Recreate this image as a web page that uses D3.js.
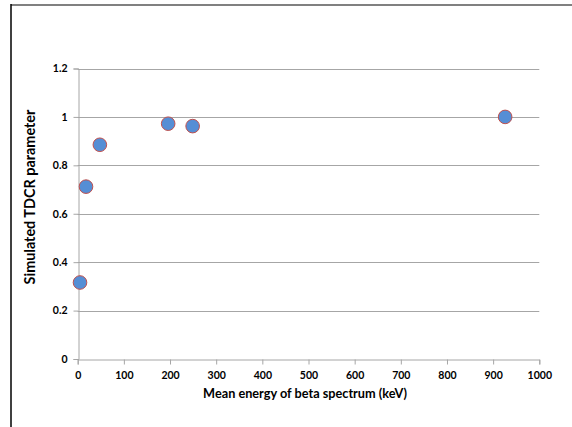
<!DOCTYPE html>
<html><head><meta charset="utf-8">
<script src="https://cdn.jsdelivr.net/npm/d3@7"></script>
<style>body{margin:0;background:#fff}svg{display:block}text{font-family:Lato,"Open Sans",sans-serif;font-weight:bold;fill:#000}</style>
</head><body>
<svg id="c" width="572" height="427"></svg>
<script>
const energies = [5, 18, 48, 196, 249, 926];
const tdcr = [0.316, 0.712, 0.885, 0.972, 0.962, 1.0];
const xTicks = [0,100,200,300,400,500,600,700,800,900,1000];
const yTicks = [0,0.2,0.4,0.6,0.8,1,1.2];
const xTitle = "Mean energy of beta spectrum (keV)";
const yTitle = "Simulated TDCR parameter";

const svg = d3.select("#c");
// outer frame lines
svg.append("line").attr("x1",11).attr("x2",572).attr("y1",5).attr("y2",5).attr("stroke","#808080").attr("stroke-width",2);
svg.append("line").attr("x1",11).attr("x2",11).attr("y1",4).attr("y2",427).attr("stroke","#000").attr("stroke-width",1.5);

const x = d3.scaleLinear().domain([0,1000]).range([77.7,539.3]);
const y = d3.scaleLinear().domain([0,1.2]).range([359,68.5]);

// grid
svg.append("g").selectAll("line").data(yTicks.filter(d=>d>0)).join("line")
  .attr("x1",x(0)).attr("x2",x(1000)).attr("y1",d=>Math.round(y(d))+0.5).attr("y2",d=>Math.round(y(d))+0.5)
  .attr("stroke","#a6a6a6").attr("stroke-width",1);

const yAxis = svg.append("g").attr("transform",`translate(${Math.round(x(0))+0.5},0)`)
  .call(d3.axisLeft(y).tickValues(yTicks).tickSize(5).tickPadding(6).tickFormat(d=>String(d)));
const xAxis = svg.append("g").attr("transform",`translate(0,${Math.round(y(0))+0.5})`)
  .call(d3.axisBottom(x).tickValues(xTicks).tickSize(5).tickPadding(7).tickFormat(d=>String(d)));
[yAxis,xAxis].forEach(a=>{
  a.selectAll("path").attr("stroke","#a6a6a6");
  a.selectAll("line").attr("stroke","#a6a6a6");
  a.selectAll("text").style("font-size","10.5px").style("font-weight","bold").attr("fill","#000");
});

function fit(t, w){
  const l = t.node().getComputedTextLength();
  const fs = parseFloat(t.style("font-size"));
  t.style("font-size", (fs*w/l).toFixed(2)+"px");
}
const xt = svg.append("text").attr("x",305).attr("y",398).attr("text-anchor","middle").style("font-size","12px").text(xTitle);
fit(xt, 204);
const yt = svg.append("text").attr("transform","translate(35,197) rotate(-90)").attr("text-anchor","middle").style("font-size","12px").text(yTitle);
fit(yt, 175);

svg.append("g").selectAll("circle").data(energies.map((e,i)=>[e,tdcr[i]])).join("circle")
  .attr("cx",d=>x(d[0])).attr("cy",d=>y(d[1])).attr("r",6.8)
  .attr("fill","#558ed5").attr("stroke","#c0504d").attr("stroke-width",1);
</script>
</body></html>
